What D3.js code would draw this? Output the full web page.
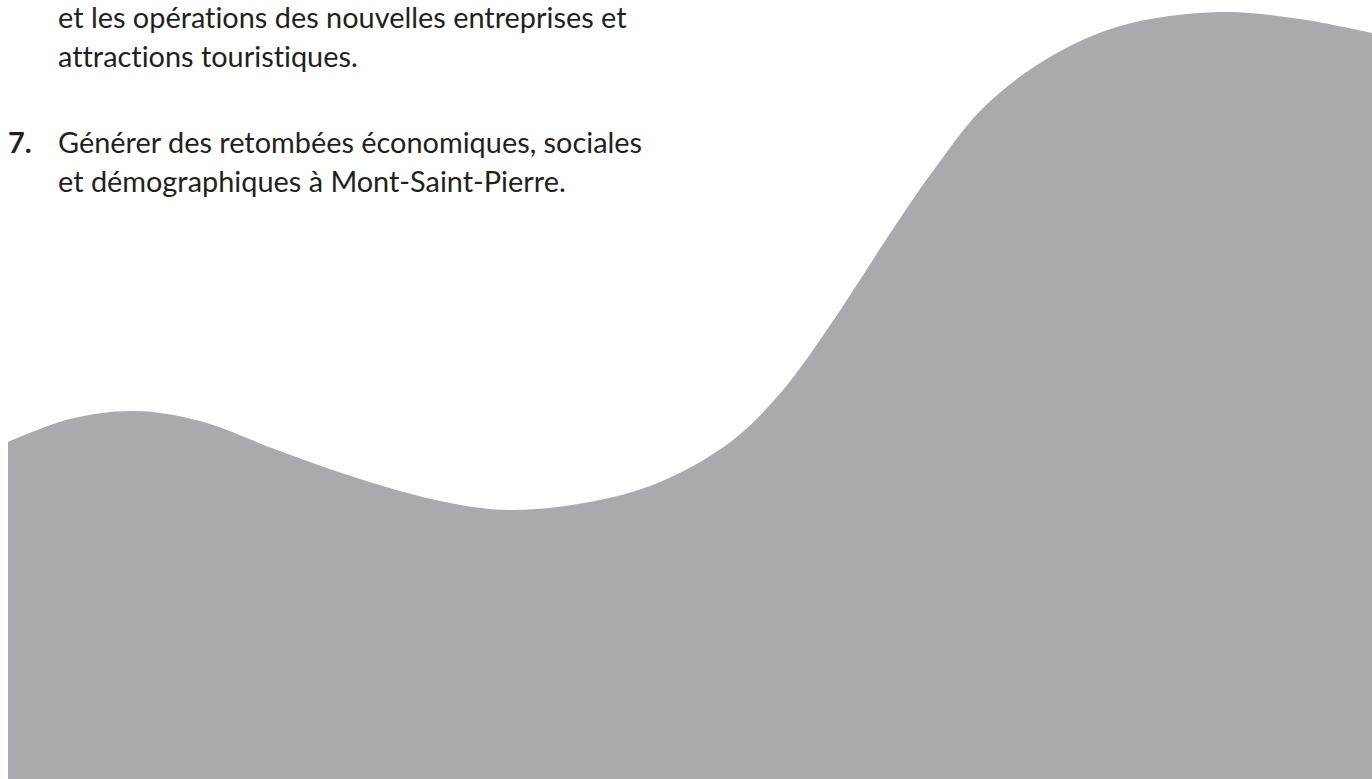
<!DOCTYPE html>
<meta charset="utf-8" />
<head>
  <style>
    body { margin: 0; background: #fff; overflow: hidden; }
    .wave { fill: #a9aaad; }
    text { fill: #231f20; font-family: Lato, "Open Sans", sans-serif; font-variant-ligatures: none; }
    .num { font-weight: bold; }
  </style>
  <script src="https://cdn.jsdelivr.net/npm/d3@7"></script>
</head>
<body>
</body>
<script>
  // lines of the list item, (number, text) pairs; null = continuation line
  var itemNumbers = [null, null, "7.", null];
  var itemLines = [
    "et les opérations des nouvelles entreprises et",
    "attractions touristiques.",
    "Générer des retombées économiques, sociales",
    "et démographiques à Mont-Saint-Pierre."
  ];
  // baselines of those lines, in page units
  var lineBaselines = [28, 67, 153, 192];

  // top edge of the grey wave, page units
  var waveX = [8, 70, 134, 200, 277, 357, 440, 510, 600, 667, 733, 783, 833, 858, 887, 933, 985, 1050, 1120, 1220, 1300, 1372];
  var waveY = [442, 419, 411, 421, 450, 478, 501, 510, 500, 479, 440, 390, 321, 283, 238, 171, 106, 57, 26, 12, 19, 33];

  var width = 1372,
    height = 779;

  var x = d3.scaleLinear().domain([0, 1372]).range([0, width]);
  var y = d3.scaleLinear().domain([0, 779]).range([0, height]);

  var svg = d3
    .select("body")
    .append("svg")
    .attr("width", width)
    .attr("height", height);

  var area = d3
    .area()
    .x(function(d) { return x(d[0]); })
    .y0(y(779))
    .y1(function(d) { return y(d[1]); })
    .curve(d3.curveCatmullRom.alpha(0.5));

  svg
    .append("path")
    .attr("class", "wave")
    .attr("d", area(d3.zip(waveX, waveY)));

  // size the font so the first line spans what it spans in the page
  var probe = svg.append("text").attr("font-size", 100).text(itemLines[0]);
  var fontSize = (100 * (627 - 58)) / probe.node().getComputedTextLength();
  probe.remove();

  var lines = svg
    .selectAll("g.line")
    .data(itemLines)
    .enter()
    .append("g")
    .attr("class", "line")
    .attr("transform", function(d, i) {
      return "translate(0," + y(lineBaselines[i]) + ")";
    });

  lines
    .append("text")
    .attr("x", x(58))
    .attr("font-size", fontSize)
    .text(function(d) { return d; });

  lines
    .filter(function(d, i) { return itemNumbers[i]; })
    .append("text")
    .attr("class", "num")
    .attr("x", x(8))
    .attr("font-size", fontSize)
    .text(function(d) { return itemNumbers[itemLines.indexOf(d)]; });
</script>
